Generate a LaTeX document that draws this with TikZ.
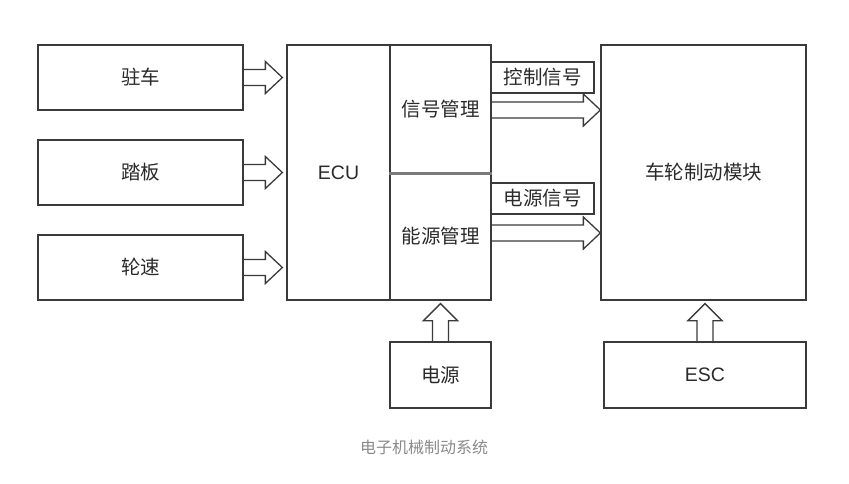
\documentclass[tikz,border=0pt]{standalone}
\usepackage{fontspec}
\setmainfont{Noto Sans CJK SC}
\newfontfamily\latinfont{Liberation Sans}
\usepackage{tikz}
\usetikzlibrary{calc,positioning}
\usepackage{xcolor}
\definecolor{linegray}{HTML}{3A3A3A}
\definecolor{textgray}{HTML}{2A2A2A}
\definecolor{capgray}{HTML}{8A8A8A}
\definecolor{sepgray}{HTML}{7A7A7A}

\tikzset{
  box/.style={draw=linegray, line width=1.3pt, inner sep=0pt, text=textgray,
    font=\fontsize{19.5}{21}\selectfont},
  inbox/.style={box, minimum width=205pt, minimum height=65pt},
  halfbox/.style={box, minimum width=101pt, minimum height=127.5pt},
  tagbox/.style={box, minimum width=103pt, minimum height=31pt},
  fatarrow/.style={draw=linegray, line width=1.3pt, line join=miter}
}

% block arrows: start point, tip point
\newcommand{\fatright}[2]{%
  \draw[fatarrow] let \p1=(#1), \p2=(#2) in
    (\x1,\y1+8pt) -- (\x2-17pt,\y1+8pt) -- (\x2-17pt,\y1+16pt) -- (\x2,\y1)
    -- (\x2-17pt,\y1-16pt) -- (\x2-17pt,\y1-8pt) -- (\x1,\y1-8pt);}
\newcommand{\fatup}[2]{%
  \draw[fatarrow] let \p1=(#1), \p2=(#2) in
    (\x1-8pt,\y1) -- (\x1-8pt,\y2-17pt) -- (\x1-17pt,\y2-17pt) -- (\x1,\y2)
    -- (\x1+17pt,\y2-17pt) -- (\x1+8pt,\y2-17pt) -- (\x1+8pt,\y1);}

\begin{document}
\begin{tikzpicture}[x=1pt, y=-1pt]
  \useasboundingbox (0,0) rectangle (849,483);

  % inputs
  \node[inbox] (park)  at (140.5,77.5)  {驻车};
  \node[inbox] (pedal) at (140.5,172.5) {踏板};
  \node[inbox] (speed) at (140.5,267.5) {轮速};

  % controller
  \node[box, minimum width=103pt, minimum height=255pt] (ecu) at (338.5,172.5) {\latinfont ECU};
  \node[halfbox] (sig) at (440.5,108.75) {信号管理};
  \node[halfbox] (pwr) at (440.5,236.25) {能源管理};
  \draw[sepgray, line width=3pt] (sig.south west) -- (sig.south east);

  % actuator
  \node[box, minimum width=205pt, minimum height=255pt] (wheel) at (703.5,172.5) {车轮制动模块};

  % signal tags
  \node[tagbox] (ctrl) at (542.5,77.5)  {控制信号};
  \node[tagbox] (psig) at (542.5,198.5) {电源信号};

  % sources below
  \node[box, minimum width=101pt, minimum height=66pt] (supply) at (440.5,375) {电源};
  \node[box, minimum width=202pt, minimum height=66pt] (esc) at (705,375) {\latinfont ESC};

  % arrows
  \foreach \src in {park,pedal,speed}
    \fatright{\src.east}{$(ecu.west |- \src.east)+(-4,0)$};
  \fatright{$(sig.east)+(0,1.25)$}{$(wheel.west |- sig.east)+(0,1.25)$};
  \fatright{$(pwr.east)+(0,-3.25)$}{$(wheel.west |- pwr.east)+(0,-3.25)$};
  \fatup{supply.north}{$(supply.north |- pwr.south)+(0,3)$};
  \fatup{esc.north}{$(esc.north |- wheel.south)+(0,3)$};

  \node[text=capgray, font=\fontsize{16}{18}\selectfont] (caption) at (424,447) {电子机械制动系统};
\end{tikzpicture}
\end{document}
